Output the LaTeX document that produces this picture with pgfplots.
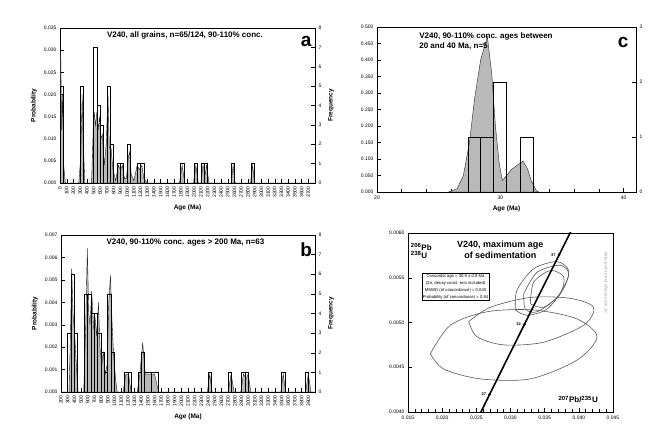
\documentclass[border=0pt]{standalone}
\usepackage{fontspec}
\setmainfont{Liberation Sans}
\usepackage{pgfplots}
\pgfplotsset{compat=1.18}

\pgfplotsset{
  panel/.style={scale only axis, anchor=south west,
    axis line style={black, line width=0.7pt},
    tick style={black, thin},
    tick label style={font=\fontsize{5}{5}\selectfont},
    label style={font=\fontsize{6.5}{7}\selectfont\bfseries},
    /pgf/number format/assume math mode=true,
    /pgf/number format/1000 sep={}},
}
\tikzset{
  prob/.style={fill=gray!55, draw=black!85, line width=0.4pt},
  freq/.style={ybar interval, draw=black, fill=none, line width=0.6pt},
  ptitle/.style={font=\fontsize{8}{9.5}\selectfont\bfseries},
  plet/.style={font=\fontsize{19}{19}\selectfont\bfseries},
}

\begin{document}
\begin{tikzpicture}
\useasboundingbox (0,0) rectangle (650pt,428pt);

% ---------- a ----------
\begin{axis}[panel, at={(60pt,245pt)}, width=255pt, height=155pt,
  xmin=0, xmax=3800, ymin=0, ymax=0.035,
  xtick={0,100,...,3700}, ytick={0,0.005,0.01,0.015,0.02,0.025,0.03,0.035},
  xtick pos=bottom, ytick pos=left,
  xticklabel style={rotate=90, anchor=east},
  yticklabel style={/pgf/number format/.cd, fixed, fixed zerofill, precision=3},
  scaled y ticks=false,
  xlabel={Age (Ma)}, ylabel={Probability}]
\addplot[prob] coordinates {
 (0,0) (10,0.030) (25,0.012) (40,0.020) (55,0.004) (80,0)
 (280,0) (310,0.006) (330,0.020) (345,0.010) (370,0)
 (470,0) (495,0.012) (510,0.016) (530,0.013) (550,0.016) (570,0.012) (590,0.015)
 (610,0.010) (630,0.011) (660,0.004) (690,0.009) (715,0.020) (735,0.008) (760,0.008)
 (790,0.003) (830,0.0005) (870,0.004) (900,0.003) (930,0.004) (960,0.001) (990,0.001)
 (1020,0.006) (1040,0.007) (1060,0.002) (1100,0.0005) (1150,0.004) (1180,0.003)
 (1220,0.004) (1250,0.001) (1300,0)
 (1780,0) (1820,0.004) (1860,0) (1990,0) (2025,0.004) (2060,0)
 (2100,0) (2130,0.004) (2165,0.002) (2185,0.004) (2220,0)
 (2550,0) (2580,0.004) (2610,0) (2840,0) (2870,0.004) (2900,0) (3800,0)} \closedcycle;
\node[ptitle] at (rel axis cs:0.49,0.955) {V240, all grains, n=65/124, 90-110\% conc.};
\node[plet] at (rel axis cs:0.965,0.91) {a};
\end{axis}
\begin{axis}[panel, at={(60pt,245pt)}, width=255pt, height=155pt,
  xmin=0, xmax=3800, ymin=0, ymax=8, hide x axis, axis y line*=right,
  ytick={0,...,8}, ylabel={Frequency}]
\addplot[freq] coordinates {
 (0,5) (50,0) (300,5) (350,0) (500,7) (550,4) (600,3) (650,0) (700,5) (750,2) (800,0)
 (850,1) (900,1) (950,0) (1000,2) (1050,0) (1150,1) (1200,1) (1250,0)
 (1800,1) (1850,0) (2000,1) (2050,0) (2100,1) (2150,1) (2200,0)
 (2550,1) (2600,0) (2850,1) (2900,0)};
\end{axis}

% ---------- b ----------
\begin{axis}[panel, at={(61pt,36pt)}, width=254pt, height=157pt,
  xmin=200, xmax=4000, ymin=0, ymax=0.007,
  xtick={200,300,...,3900}, ytick={0,0.001,0.002,0.003,0.004,0.005,0.006,0.007},
  xtick pos=bottom, ytick pos=left,
  xticklabel style={rotate=90, anchor=east},
  yticklabel style={/pgf/number format/.cd, fixed, fixed zerofill, precision=3},
  scaled y ticks=false,
  xlabel={Age (Ma)}, ylabel={Probability}]
\addplot[prob] coordinates {
 (200,0) (320,0) (345,0.0030) (360,0.0055) (380,0.0035) (400,0.0028) (430,0.0012) (455,0)
 (540,0) (570,0.0030) (594,0.0064) (615,0.0035) (634,0.0030) (659,0.0045) (690,0.0028)
 (710,0.0033) (734,0.0025) (760,0.0040) (783,0.0020) (810,0.0012) (833,0.0018)
 (860,0.0008) (890,0.0012) (915,0.0040) (940,0.0052) (965,0.0030) (990,0.0015)
 (1020,0.0005) (1040,0)
 (1130,0) (1170,0.0008) (1210,0.0008) (1250,0)
 (1340,0) (1380,0.0008) (1422,0.0022) (1460,0.0008) (1520,0.0008) (1600,0.0008) (1660,0)
 (2390,0) (2425,0.0008) (2460,0) (2700,0) (2745,0.0008) (2790,0)
 (2890,0) (2930,0.0008) (2970,0.0006) (3000,0.0008) (3040,0)
 (3490,0) (3525,0.0008) (3560,0) (3860,0) (3900,0.0008) (3940,0) (4000,0)} \closedcycle;
\node[ptitle] at (rel axis cs:0.49,0.95) {V240, 90-110\% conc. ages > 200 Ma, n=63};
\node[plet] at (rel axis cs:0.965,0.905) {b};
\end{axis}
\begin{axis}[panel, at={(61pt,36pt)}, width=254pt, height=157pt,
  xmin=200, xmax=4000, ymin=0, ymax=8, hide x axis, axis y line*=right,
  ytick={0,...,8}, ylabel={Frequency}]
\addplot[freq] coordinates {
 (200,0) (300,3) (350,6) (400,3) (450,0) (550,5) (600,5) (650,4) (700,4) (750,3)
 (800,2) (850,1) (900,5) (950,2) (1000,0) (1150,1) (1200,1) (1250,0)
 (1350,1) (1400,2) (1450,1) (1550,1) (1650,0) (2400,1) (2450,0) (2700,1) (2750,0)
 (2900,1) (2950,1) (3000,0) (3500,1) (3550,0) (3850,1) (3900,0)};
\end{axis}

% ---------- c ----------
\begin{axis}[panel, at={(377pt,236pt)}, width=259pt, height=165pt,
  xmin=20, xmax=41, ymin=0, ymax=0.5,
  xtick={20,30,40}, minor x tick num=4,
  ytick={0,0.05,0.1,0.15,0.2,0.25,0.3,0.35,0.4,0.45,0.5},
  xtick pos=bottom, ytick pos=left,
  yticklabel style={/pgf/number format/.cd, fixed, fixed zerofill, precision=3},
  scaled y ticks=false,
  xlabel={Age (Ma)}]
\addplot[prob] coordinates {
 (25.8,0) (26.5,0.01) (27.0,0.05) (27.5,0.15) (27.9,0.28) (28.4,0.40) (28.95,0.47)
 (29.3,0.36) (29.6,0.2) (29.9,0.09) (30.15,0.035) (30.4,0.045) (30.9,0.068) (31.4,0.082)
 (31.85,0.093) (32.2,0.07) (32.5,0.035) (32.9,0.005) (33.1,0)} \closedcycle;
\node[ptitle, anchor=north west, align=left] at (rel axis cs:0.15,0.985)
  {V240, 90-110\% conc. ages between\\20 and 40 Ma, n=5};
\node[plet] at (rel axis cs:0.95,0.905) {c};
\end{axis}
\begin{axis}[panel, at={(377pt,236pt)}, width=259pt, height=165pt,
  xmin=20, xmax=41, ymin=0, ymax=3, hide x axis, axis y line*=right,
  ytick={0,...,3}]
\addplot[freq] coordinates {(27.4,1) (28.4,1) (29.45,2) (30.5,0) (31.6,1) (32.7,0)};
\end{axis}

% ---------- d ----------
\begin{axis}[panel, at={(408pt,16pt)}, width=205pt, height=179pt,
  xmin=0.015, xmax=0.045, ymin=0.004, ymax=0.006,
  xtick={0.015,0.02,0.025,0.03,0.035,0.04,0.045}, minor x tick num=4,
  ytick={0.004,0.0045,0.005,0.0055,0.006},
  xtick pos=bottom, ytick pos=left,
  xticklabel style={/pgf/number format/.cd, fixed, fixed zerofill, precision=3},
  yticklabel style={/pgf/number format/.cd, fixed, fixed zerofill, precision=4},
  scaled x ticks=false, scaled y ticks=false]
\addplot[smooth, draw=black!65, line width=0.6pt] coordinates {
 (0.01827,0.00465) (0.0212,0.00497) (0.02656,0.00512) (0.03339,0.00514) (0.03973,0.00504)
 (0.04266,0.00484) (0.03973,0.00458) (0.0329,0.00437) (0.02559,0.00437) (0.02022,0.00448)
 (0.01827,0.00465)};
\addplot[smooth, draw=black!65, line width=0.6pt] coordinates {
 (0.02388,0.00501) (0.02705,0.00517) (0.0329,0.00528) (0.03876,0.00527) (0.04217,0.00517)
 (0.04071,0.00497) (0.03485,0.00478) (0.029,0.00475) (0.0251,0.00484) (0.02388,0.00501)};
\addplot[smooth, draw=black!65, line width=0.6pt] coordinates {
 (0.03071,0.00514) (0.03095,0.00536) (0.03339,0.0056) (0.0368,0.00568) (0.03851,0.00558)
 (0.03778,0.00538) (0.03534,0.00515) (0.03241,0.00508) (0.03071,0.00514)};
\addplot[smooth, draw=black!65, line width=0.6pt] coordinates {
 (0.03193,0.00532) (0.03388,0.00556) (0.03729,0.00564) (0.03851,0.00553) (0.0368,0.00528)
 (0.03388,0.00512) (0.03217,0.00515) (0.03193,0.00532)};
\addplot[smooth, draw=black!65, line width=0.6pt] coordinates {
 (0.0329,0.00521) (0.03339,0.00545) (0.03583,0.00558) (0.03778,0.00551) (0.03729,0.00532)
 (0.03485,0.00517) (0.0329,0.00521)};
\addplot[black, line width=1.6pt] coordinates {
 (0.02391,0.00373) (0.024927,0.0038856) (0.029987,0.0046646) (0.035071,0.0054442) (0.04018,0.0062243)};
\addplot[only marks, mark=*, mark size=1.2pt, black,
  nodes near coords, point meta=explicit symbolic,
  nodes near coords style={anchor=east, font=\fontsize{4}{4}\selectfont\bfseries}]
  coordinates {(0.026948,0.0041972)[27] (0.032017,0.0049763)[32] (0.037111,0.0057561)[37]};
\node[font=\fontsize{9}{10.5}\selectfont\bfseries, align=center] at (rel axis cs:0.45,0.905)
  {V240, maximum age\\of sedimentation};
\node[font=\fontsize{8}{7}\selectfont\bfseries, align=left] at (rel axis cs:0.065,0.9)
  {\textsuperscript{206}Pb\\\textsuperscript{238}U};
\node[font=\fontsize{8}{8}\selectfont\bfseries] at (rel axis cs:0.83,0.07)
  {\textsuperscript{207}Pb/\textsuperscript{235}U};
\node[draw, fill=white, align=center, inner sep=1.2pt, font=\fontsize{4.2}{7}\selectfont]
  at (rel axis cs:0.232,0.70)
  {Concordia age = 30.9 ± 0.8 Ma\\(2σ, decay-const. errs included)\\MSWD (of concordance) = 0.043\\Probability (of concordance) = 0.84};
\node[rotate=-90, text=black!35, font=\fontsize{4.5}{5}\selectfont] at (rel axis cs:0.965,0.72)
  {data-point error ellipses are 2σ};
\node[plet] at (rel axis cs:1.06,0.92) {d};
\end{axis}

\end{tikzpicture}
\end{document}
